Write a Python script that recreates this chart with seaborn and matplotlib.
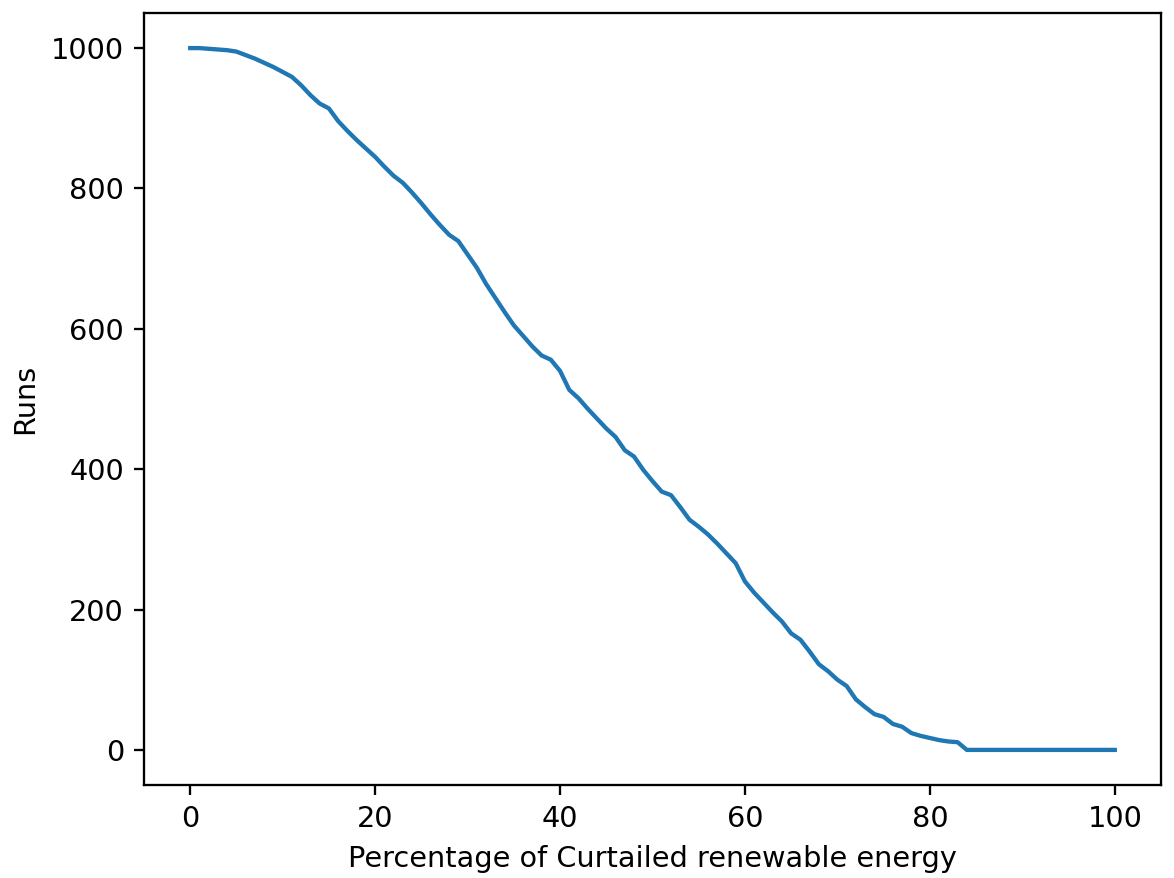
import matplotlib
matplotlib.use("Agg")
import matplotlib.pyplot as plt
import seaborn as sns
import pandas as pd

# Share of curtailed renewable energy (%) and number of runs reaching it
curtailed_pct = list(range(0, 101))
runs = [
    1000, 1000, 999, 998, 997, 995, 990, 985, 979, 973,
    966, 959, 947, 933, 921, 914, 896, 882, 869, 857,
    845, 831, 818, 808, 794, 779, 763, 748, 734, 725,
    706, 687, 664, 644, 624, 605, 590, 575, 562, 556,
    540, 513, 501, 486, 472, 458, 446, 427, 418, 399,
    383, 368, 363, 346, 328, 318, 307, 294, 280, 266,
    240, 224, 210, 196, 183, 166, 157, 140, 122, 112,
    100, 91, 72, 61, 51, 47, 37, 33, 24, 20,
    17, 14, 12, 11, 0, 0, 0, 0, 0, 0,
    0, 0, 0, 0, 0, 0, 0, 0, 0, 0,
    0,
]

df = pd.DataFrame({"pct": curtailed_pct, "runs": runs})

W, H, DPI = 1174, 878, 207
fig = plt.figure(figsize=(W / DPI, H / DPI), dpi=DPI)
ax = fig.add_axes([144 / W, 1 - 785 / H, (1161 - 144) / W, (785 - 13) / H])

sns.lineplot(data=df, x="pct", y="runs", ax=ax, color="#1f77b4", linewidth=1.5)

ax.set_xlabel("Percentage of Curtailed renewable energy")
ax.set_ylabel("Runs")
ax.set_xticks([0, 20, 40, 60, 80, 100])
ax.set_yticks([0, 200, 400, 600, 800, 1000])

fig.savefig("out.png", dpi=DPI)
